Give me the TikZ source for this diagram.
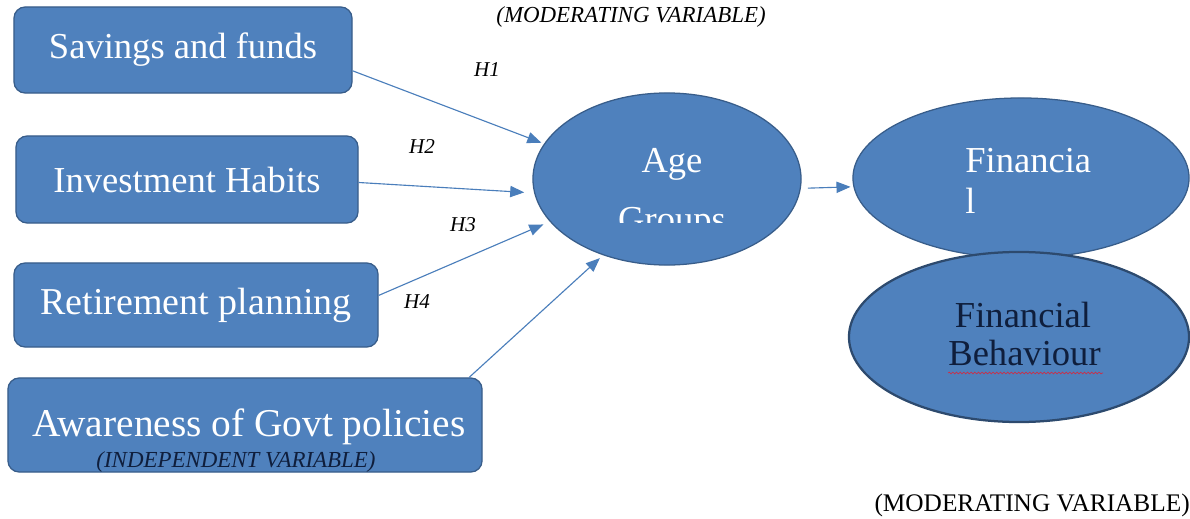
\documentclass[tikz,border=0pt]{standalone}
\usepackage{fontspec}
\setmainfont{Liberation Serif}
\usepackage{tikz}
\usetikzlibrary{
    arrows.meta,
    shapes.geometric,
    decorations.pathmorphing,
    positioning
}
\definecolor{varfill}{HTML}{4F81BD}
\definecolor{varline}{HTML}{385D8A}
\definecolor{conncol}{HTML}{4A7EBB}
\definecolor{navytext}{HTML}{0F1E3C}
\definecolor{spellred}{HTML}{C8304A}
\tikzset{
    varbox/.style={
        rectangle,
        rounded corners=8pt,
        draw=varline,
        fill=varfill,
        line width=0.9pt,
        text=white,
        inner sep=0pt,
    },
    bubble/.style={
        ellipse,
        draw=varline,
        fill=varfill,
        line width=0.9pt,
        inner sep=0pt,
    },
    bubbletext/.style={
        font=\fontsize{26}{30}\selectfont,
        inner sep=0pt,
    },
    hyplabel/.style={
        font=\fontsize{15}{18}\selectfont\itshape,
        inner sep=0pt,
    },
    varlabel/.style={
        font=\fontsize{16.3}{19}\selectfont\itshape,
        inner sep=0pt,
    },
    conn/.style={
        draw=conncol,
        line width=0.8pt,
        -{Triangle[length=10pt,width=8pt]},
    },
}

\begin{document}
\begin{tikzpicture}[x=0.025cm,y=-0.025cm]
    \useasboundingbox[fill=white] (0,0) rectangle (1190,519);

    % independent variables
    \node[varbox, minimum width=8.45cm, minimum height=2.15cm,
        font=\fontsize{26}{30}\selectfont] (save) at (183,50) {Savings and funds};
    \node[varbox, minimum width=8.55cm, minimum height=2.175cm,
        font=\fontsize{26}{30}\selectfont] (invest) at (187,179.5) {Investment Habits};
    \node[varbox, minimum width=9.1cm, minimum height=2.1cm,
        font=\fontsize{27}{31}\selectfont] (retire) at (196,305) {Retirement planning};
    \node[varbox, minimum width=11.85cm, minimum height=2.35cm] (aware) at (245,425) {};
    \node[font=\fontsize{28}{32}\selectfont, text=white, inner sep=0pt,
        anchor=base] (awaretxt) at (249,436) {Awareness of Govt policies};
    \node[varlabel, text=navytext] (indep) at (236,462) {(INDEPENDENT VARIABLE)};

    % moderating variable
    \node[bubble, minimum width=6.7cm, minimum height=4.3cm] (age) at (667,179) {};
    \node[bubbletext, text=white, anchor=base] (agetxt) at (672,172) {Age};
    \begin{scope}
        \clip (560,190) rectangle (780,222);
        \node[bubbletext, text=white, anchor=base] (grouptxt) at (672,231) {Groups};
    \end{scope}
    \node[varlabel] (modtop) at (631,17) {(MODERATING VARIABLE)};

    % dependent variable
    \node[bubble, minimum width=8.4cm, minimum height=4cm] (fin) at (1021,178) {};
    \node[bubbletext, text=white, anchor=base west] (fintxt) at (965,172) {Financia};
    \node[bubbletext, text=white, anchor=base west] (fintxtb) at (965,213) {l};
    \node[bubble, draw=varline!80!black, line width=1.6pt,
        minimum width=8.5cm, minimum height=4.25cm] (behav) at (1019,337) {};
    \node[bubbletext, text=navytext, anchor=base] (behavtxt) at (1023,327) {Financial};
    \node[bubbletext, text=navytext, anchor=base] (behavtxtb) at (1024.5,365) {Behaviour};
    \draw[spellred, line width=0.5pt, decorate,
        decoration={snake, amplitude=0.6pt, segment length=2.6pt}]
        (behavtxtb.base west) ++(0,8) -- ++(155,0);

    % hypotheses
    \draw[conn, shorten >=2pt] (save.-7.75) -- (age.164);
    \draw[conn, shorten >=7pt] (invest.-1) -- (age.186);
    \draw[conn, shorten >=5pt] (retire.3) -- (age.200);
    \draw[conn, shorten >=3pt] (aware.12) -- (age.230);
    \draw[conn, shorten <=5pt, shorten >=2pt] (age.-4.5) -- (fin.183);

    \node[hyplabel] (h1) at (487,70) {H1};
    \node[hyplabel] (h2) at (422,147) {H2};
    \node[hyplabel] (h3) at (463,225) {H3};
    \node[hyplabel] (h4) at (417,302) {H4};

    \node[font=\fontsize{18}{21}\selectfont, inner sep=0pt, anchor=east]
        (modbot) at (1190,505) {(MODERATING VARIABLE)};
\end{tikzpicture}
\end{document}
